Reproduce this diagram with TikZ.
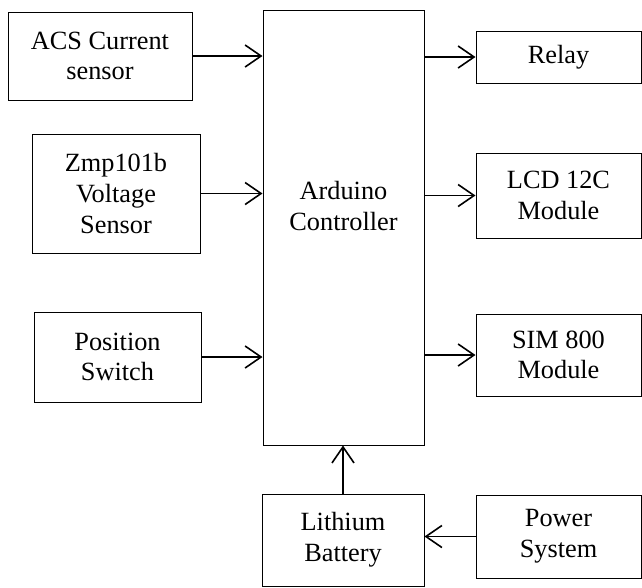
\documentclass[tikz,border=0pt]{standalone}
\usepackage{fontspec}
\setmainfont{Liberation Serif}
\usepackage{tikz}
\usetikzlibrary{arrows.meta, positioning}

\begin{document}
\begin{tikzpicture}[
      x=1pt, y=-1pt,
      box/.style={draw, line width=1pt, inner sep=0pt, align=center,
                  font=\fontsize{26.3pt}{30.7pt}\selectfont},
      arrow/.style={-{Straight Barb[length=16pt, width=22pt, line width=1.6pt]}, line width=1.6pt}
    ]
    \useasboundingbox (0,0) rectangle (642,587);
    % inputs
    \node[box, minimum width=184pt, minimum height=88pt]  (acs) at (100,56)    {ACS Current\\sensor};
    \node[box, minimum width=168pt, minimum height=119pt] (zmp) at (116,193.5) {Zmp101b\\Voltage\\Sensor};
    \node[box, minimum width=167pt, minimum height=90pt]  (pos) at (117.5,357) {Position\\Switch};
    % controller
    \node[box, minimum width=161pt, minimum height=435pt] (ard) at (343.5,227.5) {};
    \node[box, draw=none] (ardtext) at (343.5,206) {Arduino\\Controller};
    % outputs
    \node[box, minimum width=165pt, minimum height=52pt] (relay) at (558.5,57)  {Relay};
    \node[box, minimum width=165pt, minimum height=85pt] (lcd)   at (558.5,195.5) {LCD 12C\\Module};
    \node[box, minimum width=165pt, minimum height=82pt] (sim)   at (558.5,355) {SIM 800\\Module};
    % power
    \node[box, minimum width=162pt, minimum height=92pt] (bat) at (343,540)   {Lithium\\Battery};
    \node[box, minimum width=165pt, minimum height=83pt] (pow) at (558.5,536.5) {Power\\System};

    \draw[arrow] (acs.east) -- (acs.east -| ard.west);
    \draw[arrow] (zmp.east) -- (zmp.east -| ard.west);
    \draw[arrow] (pos.east) -- (pos.east -| ard.west);
    \draw[arrow] (ard.east |- relay.west) -- (relay.west);
    \draw[arrow] (ard.east |- lcd.west) -- (lcd.west);
    \draw[arrow] (ard.east |- sim.west) -- (sim.west);
    \draw[arrow] (bat.north) -- (bat.north |- ard.south);
    \draw[arrow] (pow.west) -- (pow.west -| bat.east);
  \end{tikzpicture}
\end{document}
